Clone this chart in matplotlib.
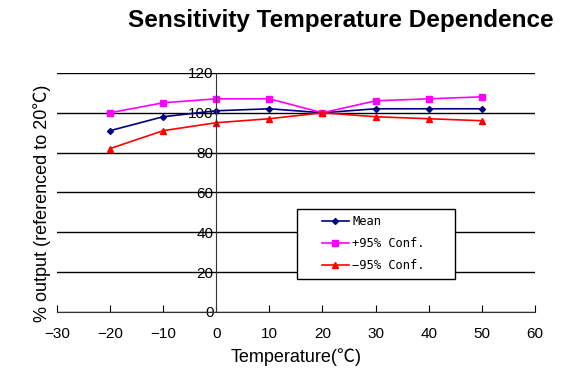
import matplotlib.pyplot as plt
from matplotlib.patches import Rectangle

# data
temps = [-20, -10, 0, 10, 20, 30, 40, 50]
mean = [91, 98, 101, 102, 100, 102, 102, 102]
plus95 = [100, 105, 107, 107, 100, 106, 107, 108]
minus95 = [82, 91, 95, 97, 100, 98, 97, 96]
xticks = [-30, -20, -10, 0, 10, 20, 30, 40, 50, 60]
yticks = [0, 20, 40, 60, 80, 100, 120]

plt.rcParams['font.family'] = ['Liberation Sans', 'DejaVu Sans']
cjk = ['Liberation Sans', 'Noto Sans CJK SC', 'DejaVu Sans']

fig = plt.figure(figsize=(5.86, 3.74), dpi=100)
ax = fig.add_axes([0.097, 0.166, 0.816, 0.639])

ax.plot(temps, mean, color='#000080', marker='D', markersize=3, lw=1.2, label='Mean')
ax.plot(temps, plus95, color='#FF00FF', marker='s', markersize=4, lw=1.2, label='+95% Conf.')
ax.plot(temps, minus95, color='#FF0000', marker='^', markersize=4, lw=1.2, label='\u221295% Conf.')

ax.set_xlim(-30, 60)
ax.set_ylim(0, 120)
ax.set_xticks(xticks)
ax.set_yticks(yticks)
ax.yaxis.grid(True, color='black', lw=1)
ax.set_axisbelow(True)

ax.spines['left'].set_position(('data', 0))
ax.spines['right'].set_visible(False)
ax.spines['top'].set_visible(False)
for s in ['left', 'bottom']:
    ax.spines[s].set_color('#333333')
ax.tick_params(axis='x', direction='in', length=5, labelsize=11, pad=11)
ax.tick_params(axis='y', length=0, labelsize=11, pad=2)

ax.set_xlabel('Temperature(\u2103)', fontsize=13, labelpad=5, family=cjk)
fig.text(0.072, 0.457, '% output (referenced to 20\u2103)', rotation=90, fontsize=13,
         ha='center', va='center', family=cjk)

fig.text(0.582, 0.945, 'Sensitivity Temperature Dependence', fontsize=17.5,
         fontweight='bold', ha='center', va='center')

# legend box with wide padding like the original
box = Rectangle((0.502, 0.138), 0.331, 0.293, transform=ax.transAxes,
                facecolor='white', edgecolor='black', lw=1, zorder=4)
ax.add_patch(box)
leg = ax.legend(loc='center', bbox_to_anchor=(0.662, 0.285), frameon=False,
                prop={'family': 'DejaVu Sans Mono', 'size': 8.7},
                handlelength=2.2, handletextpad=0.3, labelspacing=0.75, borderpad=0)
leg.set_zorder(5)

plt.savefig('out.png', dpi=100)
